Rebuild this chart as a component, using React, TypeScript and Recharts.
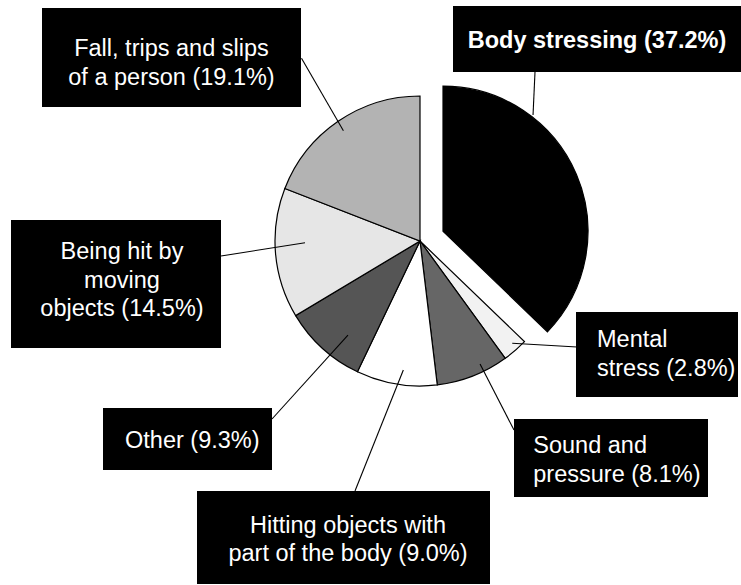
import React from 'react';
import { PieChart, Pie, Cell } from 'recharts';

// ---- data ----
const categories = [
  'Body stressing',
  'Mental stress',
  'Sound and pressure',
  'Hitting objects with part of the body',
  'Other',
  'Being hit by moving objects',
  'Fall, trips and slips of a person',
];
const shares = [37.2, 2.8, 8.1, 9.0, 9.3, 14.5, 19.1];
// label text broken into lines; the percentage is appended to the last line
const labelTextLines = [
  ['Body stressing'],
  ['Mental', 'stress'],
  ['Sound and', 'pressure'],
  ['Hitting objects with', 'part of the body'],
  ['Other'],
  ['Being hit by', 'moving', 'objects'],
  ['Fall, trips and slips', 'of a person'],
];
const explodedIndex = 0;

// ---- styles / layout ----
const sliceColors = ['#000000', '#f2f2f2', '#666666', '#ffffff', '#555555', '#e6e6e6', '#b3b3b3'];
const CX = 420;
const CY = 241;
const R = 145;
const EXPLODE = 25;
const FONT = '"Liberation Sans", Arial, Helvetica, sans-serif';
const FONT_SIZE = 23.5;
const LINE_H = 28.5;

type Layout = {
  box: [number, number, number, number];
  tx: number;
  ty: number;
  anchor: 'start' | 'middle';
  bold?: boolean;
  end: [number, number];
  angleShift: number;
  rf: number;
};

const labelLayout: Layout[] = [
  { box: [453, 6, 288, 66], tx: 597, ty: 48.3, anchor: 'middle', bold: true, end: [535, 72], angleShift: 29.2, rf: 1.014 },
  { box: [576, 312, 162, 85], tx: 597, ty: 347.3, anchor: 'start', end: [577, 347], angleShift: 1.0, rf: 0.95 },
  { box: [514, 419, 194, 78], tx: 533.3, ty: 453.3, anchor: 'start', end: [514, 430], angleShift: 4.6, rf: 0.944 },
  { box: [197, 491, 293, 93], tx: 348, ty: 532.7, anchor: 'middle', end: [355, 491], angleShift: 2.0, rf: 0.897 },
  { box: [103, 408, 169, 62], tx: 192.3, ty: 448.3, anchor: 'middle', end: [272, 419], angleShift: 4.85, rf: 0.817 },
  { box: [11, 220, 210, 128], tx: 122, ty: 259.3, anchor: 'middle', end: [221, 256], angleShift: -4.0, rf: 0.793 },
  { box: [42, 8, 259, 99], tx: 171.5, ty: 56, anchor: 'middle', end: [301.5, 58.3], angleShift: 0.4, rf: 0.926 },
];

const data = categories.map((name, i) => ({ name, value: shares[i] }));
const total = shares.reduce((a, b) => a + b, 0);
const RAD = Math.PI / 180;
const explodedMid =
  90 - ((shares.slice(0, explodedIndex).reduce((a, b) => a + b, 0) + shares[explodedIndex] / 2) / total) * 360;
const explodeDx = EXPLODE * Math.cos(explodedMid * RAD);
const explodeDy = -EXPLODE * Math.sin(explodedMid * RAD);

const renderLabel = (props: any) => {
  const { cx, cy, midAngle, outerRadius, index } = props;
  const L = labelLayout[index];
  if (!L) return null;
  let ox = cx;
  let oy = cy;
  if (index === explodedIndex) {
    ox += explodeDx;
    oy += explodeDy;
  }
  const a = (midAngle + L.angleShift) * RAD;
  const sx = ox + outerRadius * L.rf * Math.cos(a);
  const sy = oy - outerRadius * L.rf * Math.sin(a);
  const lines = labelTextLines[index].slice();
  lines[lines.length - 1] = `${lines[lines.length - 1]} (${shares[index].toFixed(1)}%)`;
  return (
    <g key={`lbl-${index}`}>
      <line x1={sx} y1={sy} x2={L.end[0]} y2={L.end[1]} stroke="#000" strokeWidth={1.1} />
      <rect x={L.box[0]} y={L.box[1]} width={L.box[2]} height={L.box[3]} fill="#000" />
      <text
        fill="#ffffff"
        fontFamily={FONT}
        fontSize={FONT_SIZE}
        fontWeight={L.bold ? 'bold' : 'normal'}
        textAnchor={L.anchor}
      >
        {lines.map((t, i) => (
          <tspan key={i} x={L.tx} y={L.ty + i * LINE_H}>
            {t}
          </tspan>
        ))}
      </text>
    </g>
  );
};

export default function App() {
  return (
    <div style={{ position: 'absolute', left: 0, top: 0, width: 741, height: 585, background: '#fff' }}>
      <PieChart width={741} height={585} margin={{ top: 0, right: 0, bottom: 0, left: 0 }}>
        <Pie
          data={data}
          dataKey="value"
          nameKey="name"
          cx={CX + explodeDx}
          cy={CY + explodeDy}
          outerRadius={R}
          startAngle={90}
          endAngle={-270}
          isAnimationActive={false}
          label={false}
          labelLine={false}
        >
          {data.map((_, i) => (
            <Cell
              key={`e-${i}`}
              fill={i === explodedIndex ? sliceColors[i] : 'none'}
              stroke={i === explodedIndex ? '#000' : 'none'}
              strokeWidth={1.2}
            />
          ))}
        </Pie>
        <Pie
          data={data}
          dataKey="value"
          nameKey="name"
          cx={CX}
          cy={CY}
          outerRadius={R}
          startAngle={90}
          endAngle={-270}
          isAnimationActive={false}
          label={renderLabel}
          labelLine={false}
        >
          {data.map((_, i) => (
            <Cell
              key={`m-${i}`}
              fill={i === explodedIndex ? 'none' : sliceColors[i]}
              stroke={i === explodedIndex ? 'none' : '#000'}
              strokeWidth={1.2}
            />
          ))}
        </Pie>
      </PieChart>
    </div>
  );
}
